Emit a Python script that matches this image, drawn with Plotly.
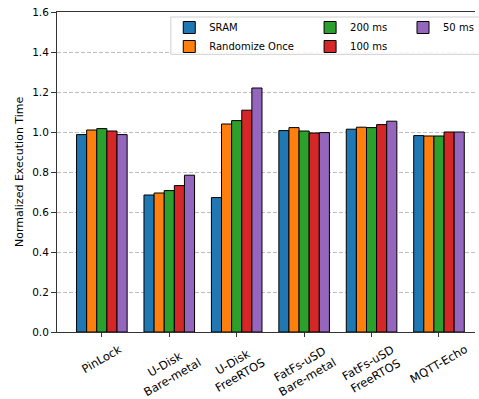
import plotly.graph_objects as go

categories = ["PinLock", "U-Disk<br>Bare-metal", "U-Disk<br>FreeRTOS",
              "FatFs-uSD<br>Bare-metal", "FatFs-uSD<br>FreeRTOS", "MQTT-Echo"]
series_names = ["SRAM", "Randomize Once", "200 ms", "100 ms", "50 ms"]
sram = [0.987, 0.685, 0.672, 1.007, 1.014, 0.982]
randomize_once = [1.010, 0.695, 1.040, 1.022, 1.024, 0.980]
ms200 = [1.017, 0.707, 1.057, 1.005, 1.022, 0.980]
ms100 = [1.005, 0.732, 1.109, 0.995, 1.037, 1.000]
ms50 = [0.987, 0.784, 1.220, 0.997, 1.054, 1.000]
y_ticks = [0.0, 0.2, 0.4, 0.6, 0.8, 1.0, 1.2, 1.4, 1.6]

series_values = [sram, randomize_once, ms200, ms100, ms50]
colors = ["#1f77b4", "#ff7f0e", "#2ca02c", "#d62728", "#9467bd"]
legends = ["legend", "legend", "legend2", "legend2", "legend3"]
FONT = "DejaVu Sans"

x_pos = list(range(len(categories)))

fig = go.Figure()
for name, vals, col, lg in zip(series_names, series_values, colors, legends):
    fig.add_trace(go.Bar(
        x=x_pos, y=vals, name=name, legend=lg,
        marker=dict(color=col, line=dict(color="#000000", width=1)),
    ))

W, H = 479, 399
L, R, T, B = 57.5, 0, 12, 67.3
pw = W - L - R
ph = H - T - B

def px_x(px):
    return (px - L) / pw

def px_y(py):
    return (H - B - py) / ph

legend_common = dict(
    font=dict(family=FONT, size=10, color="#000000"),
    bgcolor="rgba(0,0,0,0)", borderwidth=0, itemwidth=30,
    tracegroupgap=0, xanchor="left", yanchor="top", orientation="v",
)

annotations = []
for i, cat in enumerate(categories):
    annotations.append(dict(
        x=i, xref="x", y=0, yref="paper", yshift=-9,
        text=cat, showarrow=False, textangle=-30, borderpad=0,
        xanchor="center", yanchor="top", align="center",
        font=dict(family=FONT, size=11.5, color="#000000"),
    ))
annotations.append(dict(
    x=0, xref="paper", xshift=-38, y=0.5, yref="paper",
    text="Normalized Execution Time", showarrow=False, textangle=-90,
    xanchor="center", yanchor="middle",
    font=dict(family=FONT, size=11, color="#000000"),
))

fig.update_layout(
    width=W, height=H,
    margin=dict(l=L, r=R, t=T, b=B, pad=0),
    paper_bgcolor="white", plot_bgcolor="white",
    barmode="group", bargap=0.25, bargroupgap=0,
    font=dict(family=FONT, size=10.5, color="#000000"),
    legend=dict(x=px_x(170.7), y=px_y(13), **legend_common),
    legend2=dict(x=px_x(312.7), y=px_y(13), **legend_common),
    legend3=dict(x=px_x(406.7), y=px_y(13), **legend_common),
    annotations=annotations,
    shapes=[dict(
        type="rect", xref="paper", yref="paper",
        x0=px_x(172.3), x1=1.05, y0=px_y(54.3), y1=px_y(17),
        line=dict(color="#d0d0d0", width=1), fillcolor="rgba(255,255,255,0.85)",
        layer="above",
    )],
    xaxis=dict(
        range=[-0.665, 5.534], tickvals=x_pos, showticklabels=False,
        ticks="outside", ticklen=4, tickcolor="#333333", tickwidth=1,
        showgrid=False, zeroline=False,
        showline=True, linecolor="#333333", linewidth=1, mirror=True,
    ),
    yaxis=dict(
        range=[0, 1.6], tickvals=y_ticks, tickformat=".1f",
        ticks="outside", ticklen=5, tickcolor="#333333", tickwidth=1,
        showgrid=True, gridcolor="#bdbdbd", gridwidth=1, griddash="4px,2px",
        zeroline=False, showline=True, linecolor="#333333", linewidth=1,
        mirror=False, tickfont=dict(family=FONT, size=10.5, color="#000000"),
    ),
)

fig.write_html(
    "out.html",
    config={"displayModeBar": False},
    post_script="document.body.style.margin='0';document.body.style.overflow='hidden';",
)
